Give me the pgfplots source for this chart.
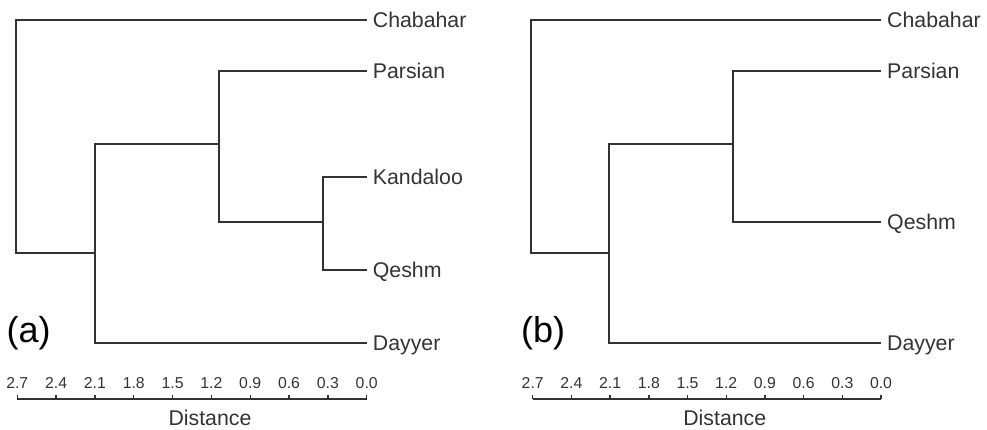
\documentclass[border=0pt]{standalone}
\usepackage{pgfplots}
\pgfplotsset{compat=1.18}
\usepackage{fontspec}
\setmainfont{Liberation Sans}
\definecolor{ink}{HTML}{333333}
\newcommand{\lblfont}{\fontsize{21.3}{25}\selectfont}
\tikzset{leaf/.style={anchor=base west, inner sep=0pt, xshift=6pt, yshift=-7.6pt, font=\lblfont, text=ink},
  br/.style={draw=ink, line width=1.9pt, mark=none}}
\pgfplotsset{dendro/.style={
  scale only axis, height=379pt,
  xmin=0, xmax=2.7, x dir=reverse, ymin=0, ymax=379,
  clip=false,
  axis x line*=bottom, axis y line=none,
  xtick={0,0.3,0.6,0.9,1.2,1.5,1.8,2.1,2.4,2.7},
  /pgf/number format/.cd, fixed, fixed zerofill, precision=1, assume math mode=true, /pgfplots/.cd,
  tick align=inside, major tick length=4pt, minor tick num=0,
  axis line style={ink, line width=1.5pt},
  tick style={ink, line width=1.4pt},
  xticklabel style={font=\fontsize{15.8}{18}\selectfont, text=ink, anchor=south, inner sep=0pt, yshift=10pt},
  xlabel={Distance},
  xlabel style={at={(axis description cs:0.5515,0)}, anchor=north, inner sep=0pt, yshift=-11pt, font=\lblfont, text=ink},
}}
\begin{document}
\begin{tikzpicture}
\path[use as bounding box] (0,0) rectangle (987pt,-429pt);
% panel (a)
\begin{axis}[dendro, width=349.4pt, at={(192pt,-209.5pt)}, anchor=center]
\addplot[br] coordinates {(0,379) (2.712,379) (2.712,145.7) (2.10,145.7)};
\addplot[br] coordinates {(0,55.7) (2.10,55.7) (2.10,254.7) (1.14,254.7)};
\addplot[br] coordinates {(0,328.3) (1.14,328.3) (1.14,176.7) (0.34,176.7)};
\addplot[br] coordinates {(0,222.3) (0.34,222.3) (0.34,129) (0,129)};
\node[leaf] at (axis cs:0,379) {Chabahar};
\node[leaf] at (axis cs:0,328.3) {Parsian};
\node[leaf] at (axis cs:0,222.3) {Kandaloo};
\node[leaf] at (axis cs:0,129) {Qeshm};
\node[leaf] at (axis cs:0,55.7) {Dayyer};
\end{axis}
% panel (b)
\begin{axis}[dendro, width=348.3pt, at={(706.85pt,-209.5pt)}, anchor=center]
\addplot[br] coordinates {(0,379) (2.715,379) (2.715,145.7) (2.11,145.7)};
\addplot[br] coordinates {(0,55.7) (2.11,55.7) (2.11,254.7) (1.15,254.7)};
\addplot[br] coordinates {(0,328.3) (1.15,328.3) (1.15,176.7) (0,176.7)};
\node[leaf] at (axis cs:0,379) {Chabahar};
\node[leaf] at (axis cs:0,328.3) {Parsian};
\node[leaf] at (axis cs:0,176.7) {Qeshm};
\node[leaf] at (axis cs:0,55.7) {Dayyer};
\end{axis}
\node[anchor=base west, inner sep=0pt, font=\fontsize{36}{40}\selectfont, text=black] at (6.5pt,-342pt) {(a)};
\node[anchor=base west, inner sep=0pt, font=\fontsize{36}{40}\selectfont, text=black] at (521pt,-342pt) {(b)};
\end{tikzpicture}
\end{document}
